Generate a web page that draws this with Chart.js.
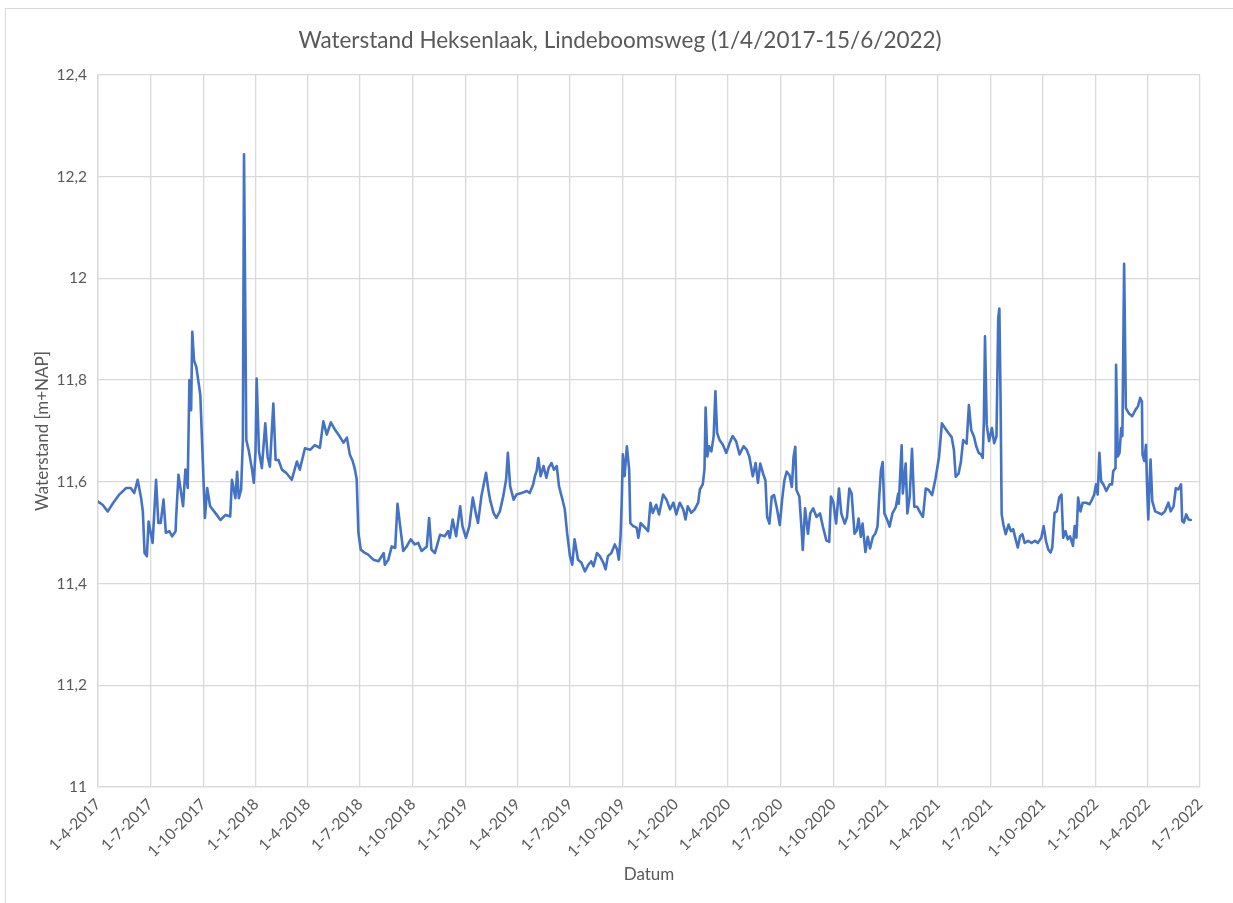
<!DOCTYPE html>
<html><head><meta charset="utf-8">
<script src="https://cdn.jsdelivr.net/npm/chart.js@4/dist/chart.umd.min.js"></script>
<style>
html,body{margin:0;padding:0;background:#fff;overflow:hidden;}
#frame{position:absolute;left:5px;top:8px;width:1250px;height:920px;border:1px solid #d9d9d9;box-sizing:border-box;}
#c{position:absolute;left:0;top:0;}
</style></head><body>
<div id="frame"></div>
<canvas id="c" width="1233" height="903"></canvas>
<script>
const chartTitle = 'Waterstand Heksenlaak, Lindeboomsweg (1/4/2017-15/6/2022)';
const xTitle = 'Datum';
const yTitle = 'Waterstand [m+NAP]';
const startDate = '2017-04-01';
const quarterLabels = ['1-4-2017','1-7-2017','1-10-2017','1-1-2018','1-4-2018','1-7-2018','1-10-2018',
  '1-1-2019','1-4-2019','1-7-2019','1-10-2019','1-1-2020','1-4-2020','1-7-2020','1-10-2020',
  '1-1-2021','1-4-2021','1-7-2021','1-10-2021','1-1-2022','1-4-2022','1-7-2022'];
const yTicks = [11, 11.2, 11.4, 11.6, 11.8, 12, 12.2, 12.4];

const dates2017 = ['04-01','04-09','04-18','04-27','05-08','05-20','05-28','06-03','06-09','06-15','06-18','06-21','06-25','06-28',
  '07-05','07-11','07-15','07-19','07-24','07-28','08-03','08-08','08-14','08-15','08-19','08-27','08-31',
  '09-04','09-07','09-10','09-12','09-15','09-19','09-26','10-04','10-08','10-13','10-22','10-31',
  '11-09','11-17','11-20','11-26','11-29','12-02','12-06','12-09','12-11','12-15','12-19','12-25','12-28','12-31'];
const levels2017 = [11.561,11.555,11.542,11.558,11.575,11.588,11.588,11.578,11.604,11.568,11.542,11.460,11.454,11.522,
  11.480,11.604,11.519,11.519,11.565,11.500,11.503,11.493,11.503,11.532,11.614,11.552,11.624,
  11.588,11.800,11.741,11.895,11.839,11.826,11.771,11.529,11.588,11.552,11.539,11.525,
  11.535,11.532,11.604,11.568,11.620,11.568,11.585,11.682,12.244,11.682,11.663,11.624,11.598,11.660];

const dates2018 = ['01-02','01-06','01-11','01-17','01-21','01-25','01-31','02-04','02-09','02-15','02-23','03-04','03-13','03-18','03-27',
  '04-05','04-13','04-17','04-22','04-28','05-04','05-11','05-18','05-26','06-02','06-08','06-13','06-18','06-22','06-25','06-28',
  '07-02','07-07','07-15','07-24','08-02','08-11','08-13','08-19','08-25','08-31','09-04','09-08','09-14','09-20','09-27',
  '10-04','10-10','10-16','10-25','10-29','11-02','11-08','11-17','11-25','12-01','12-04','12-09','12-15','12-22','12-26'];
const levels2018 = [11.803,11.660,11.627,11.715,11.650,11.630,11.754,11.643,11.643,11.624,11.617,11.604,11.640,11.624,11.666,
  11.663,11.672,11.670,11.667,11.719,11.693,11.717,11.703,11.690,11.677,11.687,11.654,11.641,11.624,11.605,11.500,
  11.467,11.462,11.457,11.447,11.444,11.460,11.437,11.447,11.473,11.470,11.557,11.519,11.464,11.473,11.487,
  11.477,11.480,11.464,11.473,11.529,11.467,11.460,11.496,11.493,11.503,11.490,11.526,11.493,11.552,11.513];

const dates2019 = ['01-01','01-07','01-13','01-18','01-22','01-28','02-05','02-09','02-12','02-18','02-23','03-01','03-07','03-12','03-15','03-19','03-25','03-30',
  '04-08','04-17','04-22','04-28','05-01','05-04','05-07','05-11','05-16','05-21','05-25','05-30','06-03','06-08','06-12','06-18','06-22','06-26',
  '07-01','07-05','07-09','07-15','07-21','07-27','08-02','08-07','08-11','08-17','08-22','08-28','09-01','09-05','09-11','09-17','09-21','09-24','09-27','09-29',
  '10-01','10-04','10-08','10-12','10-14','10-19','10-25','10-28','11-01','11-06','11-14','11-18','11-22','11-28','12-03','12-10','12-16','12-22','12-28'];
const levels2019 = [11.490,11.513,11.569,11.539,11.519,11.572,11.618,11.585,11.565,11.539,11.529,11.542,11.572,11.605,11.657,11.591,11.565,11.575,
  11.578,11.582,11.578,11.595,11.611,11.621,11.647,11.611,11.631,11.608,11.628,11.637,11.624,11.631,11.591,11.565,11.546,11.500,
  11.454,11.437,11.487,11.447,11.441,11.424,11.437,11.444,11.434,11.460,11.454,11.441,11.428,11.454,11.460,11.477,11.467,11.447,11.493,11.559,
  11.654,11.611,11.670,11.624,11.519,11.513,11.510,11.490,11.519,11.513,11.503,11.559,11.539,11.555,11.536,11.575,11.565,11.546,11.559];

const dates2020 = ['01-02','01-08','01-14','01-18','01-22','01-28','02-03','02-09','02-12','02-17','02-20','02-22','02-25','02-28',
  '03-03','03-07','03-10','03-13','03-17','03-23','03-29','04-04','04-09','04-15','04-21','04-28','05-03','05-08','05-14','05-19','05-23','05-27',
  '06-01','06-05','06-08','06-12','06-16','06-20','06-25','06-30','07-04','07-08','07-12','07-17','07-21','07-24','07-27','07-29',
  '08-03','08-07','08-09','08-13','08-18','08-22','08-27','09-02','09-08','09-13','09-19','09-24','09-27',
  '10-01','10-06','10-11','10-15','10-21','10-25','10-29','11-02','11-07','11-11','11-14','11-18','11-21','11-26','11-30',
  '12-04','12-09','12-13','12-17','12-20','12-23','12-26','12-29'];
const levels2020 = [11.536,11.559,11.546,11.526,11.552,11.539,11.546,11.559,11.585,11.595,11.624,11.746,11.650,11.670,
  11.660,11.690,11.778,11.696,11.683,11.673,11.657,11.677,11.690,11.680,11.654,11.670,11.664,11.650,11.611,11.637,11.598,11.636,
  11.616,11.603,11.531,11.518,11.571,11.574,11.548,11.515,11.564,11.603,11.620,11.613,11.590,11.649,11.669,11.584,
  11.571,11.505,11.466,11.548,11.498,11.538,11.548,11.531,11.538,11.512,11.485,11.482,11.571,
  11.561,11.518,11.587,11.538,11.518,11.531,11.587,11.577,11.498,11.505,11.528,11.492,11.518,11.462,11.492,
  11.469,11.492,11.498,11.512,11.571,11.623,11.639,11.538];

const dates2021 = ['01-03','01-07','01-12','01-18','01-22','01-23','01-28','01-30','02-04','02-07','02-11','02-15','02-19','02-24',
  '03-02','03-06','03-11','03-16','03-22','03-28','04-03','04-08','04-14','04-20','04-25','04-29',
  '05-02','05-07','05-11','05-15','05-21','05-25','05-29','06-03','06-07','06-11','06-15','06-18','06-20','06-22','06-25','06-29',
  '07-04','07-08','07-12','07-15','07-17','07-19','07-21','07-24','07-28','08-02','08-06','08-10','08-15','08-18','08-22','08-26','08-30',
  '09-05','09-11','09-17','09-22','09-28','10-02','10-06','10-10','10-14','10-17','10-21','10-25','10-29',
  '11-02','11-05','11-09','11-13','11-17','11-22','11-25','11-28','12-01','12-05','12-09','12-15','12-21','12-25','12-29'];
const levels2021 = [11.525,11.512,11.538,11.551,11.577,11.557,11.672,11.577,11.636,11.538,11.571,11.665,11.551,11.551,
  11.538,11.531,11.587,11.584,11.574,11.607,11.649,11.715,11.705,11.695,11.688,11.662,
  11.610,11.616,11.639,11.682,11.675,11.751,11.702,11.688,11.669,11.657,11.654,11.647,11.719,11.886,11.712,11.680,
  11.706,11.676,11.690,11.922,11.941,11.771,11.536,11.516,11.497,11.516,11.503,11.507,11.484,11.471,11.493,11.497,11.480,
  11.484,11.480,11.484,11.480,11.490,11.513,11.484,11.467,11.461,11.471,11.539,11.542,11.569,
  11.575,11.490,11.503,11.487,11.493,11.474,11.513,11.490,11.569,11.542,11.559,11.559,11.556,11.565,11.575];

const dates2022 = ['01-01','01-04','01-07','01-10','01-14','01-19','01-25','01-29','01-31','02-04','02-05','02-08','02-11','02-14','02-16','02-19','02-22','02-27',
  '03-05','03-11','03-15','03-19','03-22','03-23','03-26','03-29','03-31','04-02','04-04','04-06','04-09','04-14','04-20','04-25',
  '05-01','05-07','05-11','05-16','05-20','05-24','05-29','05-31','06-03','06-07','06-11','06-15'];
const levels2022 = [11.595,11.575,11.657,11.601,11.595,11.582,11.595,11.595,11.621,11.627,11.830,11.650,11.657,11.706,11.690,12.029,11.745,11.735,
  11.729,11.742,11.748,11.765,11.758,11.654,11.641,11.673,11.588,11.526,11.588,11.644,11.562,11.542,11.539,11.536,
  11.542,11.559,11.542,11.552,11.588,11.585,11.595,11.523,11.520,11.536,11.526,11.525];

const years = [[2017, dates2017, levels2017],[2018, dates2018, levels2018],[2019, dates2019, levels2019],
  [2020, dates2020, levels2020],[2021, dates2021, levels2021],[2022, dates2022, levels2022]];

const DAY = 86400000;
function isoToUTC(s){ const p = s.split('-').map(Number); return Date.UTC(p[0], p[1]-1, p[2]); }
const t0 = isoToUTC(startDate);
function dayOf(iso){ return Math.round((isoToUTC(iso) - t0) / DAY); }
function dmyToDay(s){ const p = s.split('-'); return dayOf(p[2] + '-' + p[1].padStart(2,'0') + '-' + p[0].padStart(2,'0')); }

const points = [];
years.forEach(([y, ds, vs]) => ds.forEach((d, i) => points.push({x: dayOf(y + '-' + d), y: vs[i]})));
const tickDays = quarterLabels.map(dmyToDay);
const labelByDay = {}; tickDays.forEach((d, i) => labelByDay[d] = quarterLabels[i]);

const TXT = '#595959', GRID = '#d9d9d9', FONT = 'Lato';

const titlePlugin = {
  id: 'chartHeading',
  afterDraw(chart) {
    const ctx = chart.ctx;
    ctx.save();
    ctx.font = '22.5px ' + FONT;
    ctx.fillStyle = TXT;
    ctx.textAlign = 'center';
    ctx.textBaseline = 'middle';
    ctx.fillText(chartTitle, 620, 41);
    ctx.restore();
  }
};

new Chart(document.getElementById('c'), {
  type: 'line',
  data: { datasets: [{ data: points, borderColor: '#4472C4', borderWidth: 2.6, pointRadius: 0,
    tension: 0, fill: false, borderJoinStyle: 'round', borderCapStyle: 'round' }] },
  plugins: [titlePlugin],
  options: {
    responsive: false, animation: false, devicePixelRatio: 1,
    layout: { padding: { left: 0, right: 33, top: 75, bottom: 0 } },
    plugins: { legend: { display: false }, tooltip: { enabled: false }, title: { display: false } },
    scales: {
      x: {
        type: 'linear', min: tickDays[0], max: tickDays[tickDays.length-1],
        afterBuildTicks: s => { s.ticks = tickDays.map(v => ({ value: v })); },
        afterFit: s => { s.height = 116; },
        grid: { color: GRID, lineWidth: 1.3, drawTicks: false },
        border: { color: GRID, width: 1.3 },
        ticks: { autoSkip: false, maxRotation: 45, minRotation: 45, padding: 8, color: TXT,
          font: { family: FONT, size: 15.5 }, callback: v => labelByDay[v] },
        title: { display: true, text: xTitle, color: TXT, font: { family: FONT, size: 17 }, padding: { top: 0, bottom: 18 } }
      },
      y: {
        min: yTicks[0], max: yTicks[yTicks.length-1],
        afterBuildTicks: s => { s.ticks = yTicks.map(v => ({ value: v })); },
        afterFit: s => { s.width = 98; },
        grid: { color: GRID, lineWidth: 1.3, drawTicks: false },
        border: { color: GRID, width: 1.3 },
        ticks: { padding: 11, color: TXT, font: { family: FONT, size: 15.5 },
          callback: v => (Math.round(v * 10) / 10).toString().replace('.', ',') },
        title: { display: true, text: yTitle, color: TXT, font: { family: FONT, size: 17 }, padding: { top: 32, bottom: 0 } }
      }
    }
  }
});
</script>
</body></html>
